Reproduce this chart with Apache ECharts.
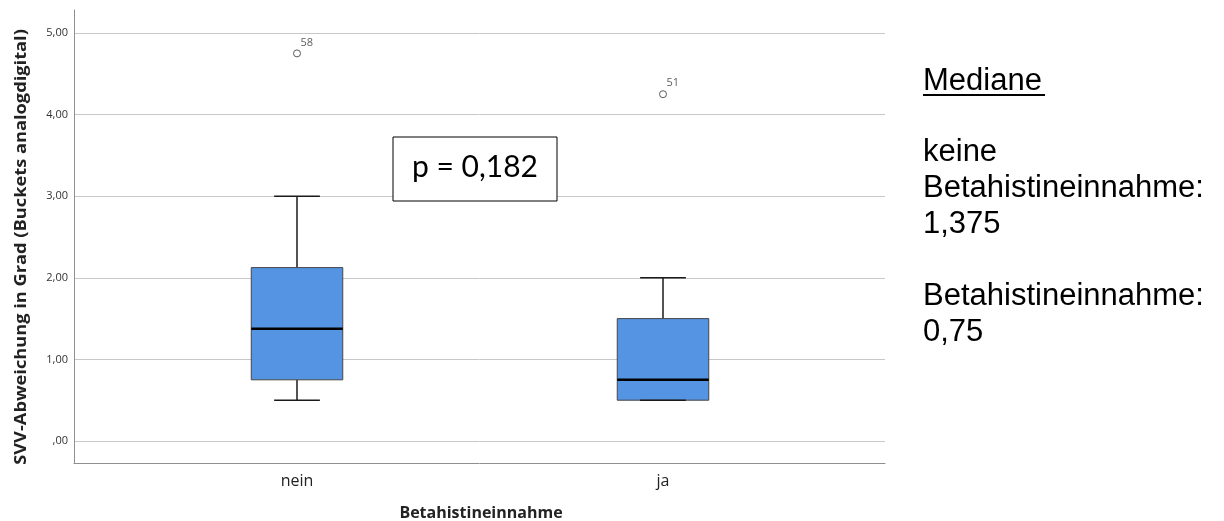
<!DOCTYPE html>
<html>
<head>
<meta charset="utf-8">
<script src="https://cdn.jsdelivr.net/npm/echarts@6/dist/echarts.min.js"></script>
<style>html,body{margin:0;padding:0;background:#fff;}#c{width:1224px;height:521px;}</style>
</head>
<body>
<div id="c"></div>
<script>
const categories = ['nein', 'ja'];
const whiskerLow = [0.5, 0.5];
const q1 = [0.75, 0.5];
const median = [1.375, 0.75];
const q3 = [2.125, 1.5];
const whiskerHigh = [3.0, 2.0];
const outlierValues = [4.75, 4.25];
const outlierCases = ['58', '51'];
const yMin = 0, yMax = 5, yStep = 1;
const yTitle = 'SVV-Abweichung in Grad (Buckets analogdigital)';
const xTitle = 'Betahistineinnahme';
const pText = 'p = 0,182';
const medianNote = ['keine', 'Betahistineinnahme:', '1,375', '', 'Betahistineinnahme:', '0,75'];

const chart = echarts.init(document.getElementById('c'));
const boxData = categories.map((c, i) => [i, whiskerLow[i], q1[i], median[i], q3[i], whiskerHigh[i]]);
const outData = categories.map((c, i) => [i, outlierValues[i]]);
const fmt = v => { let s = Number(v).toFixed(2).replace('.', ','); if (s.startsWith('0,')) s = s.slice(1); return s; };
const hidden = { show: false };

const option = {
  animation: false,
  grid: [
    { left: 74, right: 339, top: 10, bottom: 58 },
    { left: 74, right: 339, top: 33, bottom: 80 },
    { left: 114, right: 378, top: 33, bottom: 80 }
  ],
  xAxis: [
    { gridIndex: 0, type: 'value', min: 0, max: 1, axisLine: { show: true, onZero: false, lineStyle: { color: '#8f8f8f', width: 1 } }, axisTick: hidden, axisLabel: hidden, splitLine: hidden },
    { gridIndex: 1, type: 'value', min: 0, max: 1, axisLine: hidden, axisTick: hidden, axisLabel: hidden, splitLine: hidden },
    { gridIndex: 2, type: 'category', data: categories, axisLine: hidden, axisTick: hidden, splitLine: hidden,
      axisLabel: { margin: 32, fontFamily: 'Open Sans', fontSize: 16, color: '#222' } }
  ],
  yAxis: [
    { gridIndex: 0, type: 'value', min: 0, max: 1, axisLine: { show: true, onZero: false, lineStyle: { color: '#8f8f8f', width: 1 } }, axisTick: hidden, axisLabel: hidden, splitLine: hidden },
    { gridIndex: 1, type: 'value', min: yMin, max: yMax, interval: yStep, axisLine: hidden, axisTick: hidden,
      splitLine: { show: true, lineStyle: { color: '#c8c8c8', width: 1 } },
      axisLabel: { margin: 6, fontFamily: 'Open Sans', fontSize: 11, color: '#333', formatter: fmt } },
    { gridIndex: 2, type: 'value', min: yMin, max: yMax, axisLine: hidden, axisTick: hidden, axisLabel: hidden, splitLine: hidden }
  ],
  series: [
    {
      type: 'custom', xAxisIndex: 2, yAxisIndex: 2, data: boxData, z: 5,
      encode: { x: 0, y: [1, 2, 3, 4, 5] },
      renderItem: function (params, api) {
        const x = api.value(0);
        const lo = api.value(1), a = api.value(2), m = api.value(3), b = api.value(4), hi = api.value(5);
        const bw = api.size([1, 0])[0];
        const cx = api.coord([x, m])[0];
        const Y = v => api.coord([x, v])[1];
        const half = bw * 0.125, cap = bw * 0.0625;
        const ln = (x1, y1, x2, y2, w, col) => ({ type: 'line', shape: { x1, y1, x2, y2 }, style: { stroke: col, lineWidth: w } });
        return {
          type: 'group',
          children: [
            ln(cx, Y(hi), cx, Y(b), 1.5, '#1a1a1a'),
            ln(cx, Y(a), cx, Y(lo), 1.5, '#1a1a1a'),
            { type: 'rect', shape: { x: cx - half, y: Y(b), width: 2 * half, height: Y(a) - Y(b) },
              style: { fill: '#5594e3', stroke: '#454545', lineWidth: 1 } },
            ln(cx - half, Y(m), cx + half, Y(m), 2.5, '#000'),
            ln(cx - cap, Y(hi), cx + cap, Y(hi), 1.5, '#1a1a1a'),
            ln(cx - cap, Y(lo), cx + cap, Y(lo), 1.5, '#1a1a1a')
          ]
        };
      }
    },
    {
      type: 'scatter', xAxisIndex: 2, yAxisIndex: 2, data: outData, z: 6,
      symbol: 'circle', symbolSize: 7,
      itemStyle: { color: '#fff', borderColor: '#333', borderWidth: 1 },
      label: { show: true, position: [7.5, -1.5], align: 'left', verticalAlign: 'bottom',
        fontFamily: 'Open Sans', fontSize: 11, color: '#333',
        formatter: p => outlierCases[p.dataIndex] }
    }
  ],
  graphic: [
    { type: 'text', z: 100, x: 21, y: 247, rotation: Math.PI / 2, scaleX: 1.14, scaleY: 1,
      style: { text: yTitle, fontFamily: 'Open Sans', fontWeight: 'bold', fontSize: 16, fill: '#222', align: 'center', verticalAlign: 'middle' } },
    { type: 'text', z: 100, x: 481, y: 513,
      style: { text: xTitle, fontFamily: 'Open Sans', fontWeight: 'bold', fontSize: 16, fill: '#222', align: 'center', verticalAlign: 'middle' } },
    { type: 'rect', z: 100, shape: { x: 393, y: 137, width: 164, height: 64 },
      style: { fill: '#fff', stroke: '#000', lineWidth: 1 } },
    { type: 'text', z: 101, x: 475, y: 167,
      style: { text: pText, fontFamily: 'Lato', fontSize: 30, fill: '#000', align: 'center', verticalAlign: 'middle' } },
    { type: 'text', z: 100, x: 923, y: 81,
      style: { text: 'Mediane', fontFamily: 'Liberation Sans', fontSize: 31, fill: '#000', align: 'left', verticalAlign: 'middle' } },
    { type: 'rect', z: 100, shape: { x: 923, y: 94, width: 122, height: 2 }, style: { fill: '#000' } },
    { type: 'text', z: 100, x: 923, y: 134,
      style: { text: medianNote.join('\n'), fontFamily: 'Liberation Sans', fontSize: 31, lineHeight: 36, fill: '#000', align: 'left', verticalAlign: 'top' } }
  ]
};
chart.setOption(option);
</script>
</body>
</html>
